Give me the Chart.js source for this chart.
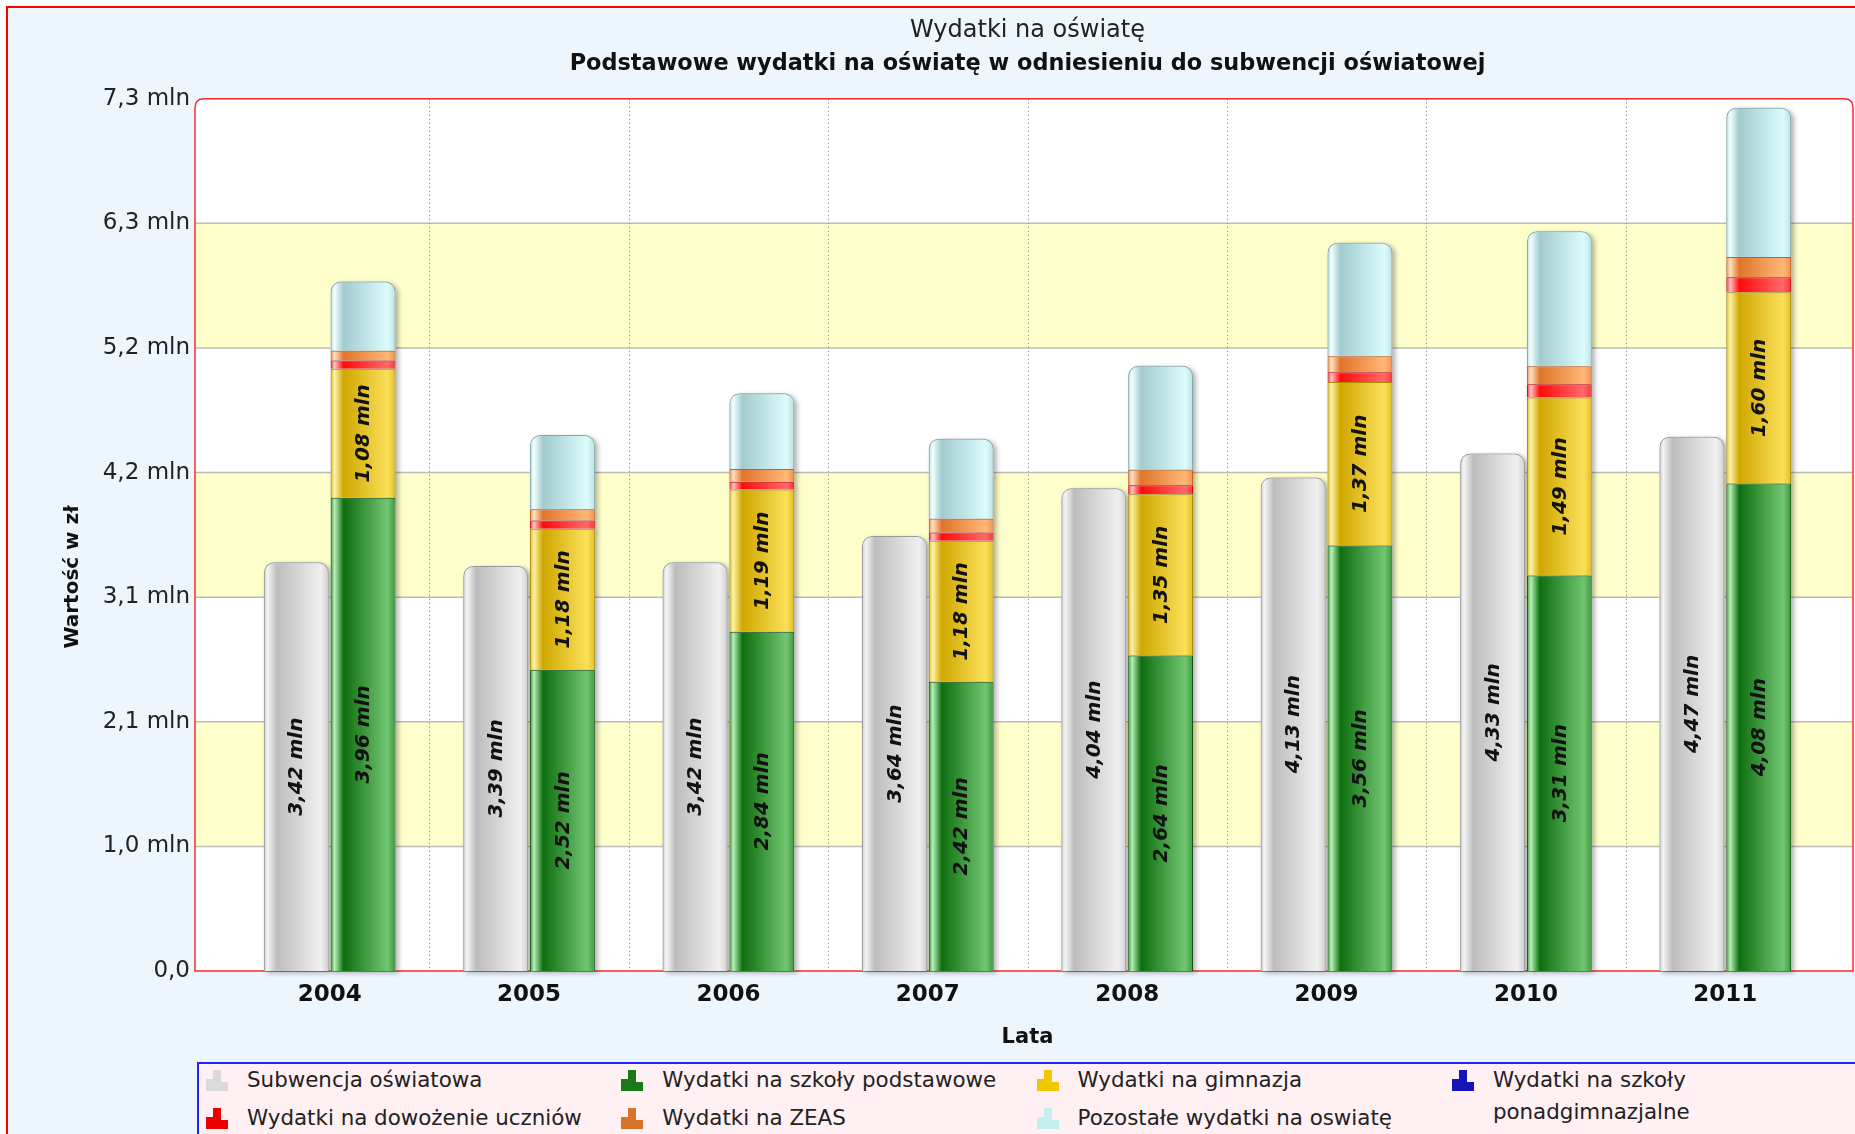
<!DOCTYPE html>
<html lang="pl">
<head>
<meta charset="utf-8">
<title>Wydatki na oświatę</title>
<script src="https://cdn.jsdelivr.net/npm/chart.js@4.4.1/dist/chart.umd.min.js"></script>
<style>
  html, body { margin: 0; padding: 0; background: #fff; overflow: hidden; }
  #wrap { position: relative; width: 1855px; height: 1134px; overflow: hidden; }
  #chart { display: block; }
  #legend {
    position: absolute; left: 197px; top: 1062px; width: 1720px; height: 110px;
    border: 2px solid #2424ff; background: #fff0f4;
    font-family: "DejaVu Sans", Verdana, sans-serif; font-size: 21.4px; color: #222;
  }
  .item { position: absolute; line-height: 31.5px; height: 32px; }
  .icon { position: absolute; left: 0; top: 6px; width: 23px; height: 21px; }
  .icon span { position: absolute; bottom: 0; width: 7px; }
  .label { position: absolute; left: 41px; top: 0; white-space: nowrap; }
  .label.wrap { white-space: normal; width: 260px; }
</style>
</head>
<body>
<div id="wrap">
  <canvas id="chart" width="1855" height="1134"></canvas>
  <div id="legend"></div>
</div>
<script>
// values in mln zł
const years = ['2004', '2005', '2006', '2007', '2008', '2009', '2010', '2011'];
const subwencja = [3.42, 3.39, 3.42, 3.64, 4.04, 4.13, 4.33, 4.47];
const podstawowe = [3.96, 2.52, 2.84, 2.42, 2.64, 3.56, 3.31, 4.08];
const gimnazja = [1.08, 1.18, 1.19, 1.18, 1.35, 1.37, 1.49, 1.60];
const ponadgimnazjalne = [0, 0, 0, 0, 0, 0, 0, 0];
const dowozenie = [0.07, 0.07, 0.065, 0.07, 0.075, 0.08, 0.11, 0.125];
const zeas = [0.08, 0.095, 0.105, 0.115, 0.13, 0.135, 0.15, 0.17];
const pozostale = [0.58, 0.62, 0.635, 0.67, 0.87, 0.95, 1.13, 1.25];

const yMax = 7.3;
const yTickLabels = ['0,0', '1,0 mln', '2,1 mln', '3,1 mln', '4,2 mln', '5,2 mln', '6,3 mln', '7,3 mln'];

const FONT = '"DejaVu Sans", Verdana, sans-serif';
const CAT_PCT = 0.67;
const BAR_PCT = 0.97;
const PANEL_LEFT = 35;   // panel sticks out past the category area
const PANEL_RIGHT = 28;

const tones = {
  gray:   { mid: '#d0d0d0', shine: '#f4f4f4', dark: '#bdbdbd', light: '#f0f0f0', border: '#9a9a9a' },
  green:  { mid: '#3a9a3a', shine: '#b8f0b8', dark: '#0e6e0e', light: '#72c672', border: '#0b4f0b' },
  yellow: { mid: '#e2c020', shine: '#fff2a8', dark: '#cfa700', light: '#fbe05a', border: '#a88a00' },
  blue:   { mid: '#2020d0', shine: '#8080ff', dark: '#0000a0', light: '#4040ff', border: '#000080' },
  red:    { mid: '#ff3030', shine: '#ffc4c4', dark: '#ff0a0a', light: '#ff6a6a', border: '#cc0000' },
  orange: { mid: '#f09048', shine: '#ffe2c4', dark: '#e0742a', light: '#ffb878', border: '#c0601c' },
  cyan:   { mid: '#bce2e4', shine: '#f0ffff', dark: '#a2cbce', light: '#dcfcfd', border: '#80a8ac' },
};

function glossy(tone) {
  return (ctx) => {
    const chart = ctx.chart;
    const xs = chart.scales && chart.scales.x;
    if (ctx.type !== 'data' || !xs || !chart.chartArea) return tone.mid;
    const size = (xs.width / years.length) * CAT_PCT;
    const chunk = size / 2;
    const slot = ctx.dataset.stack === 'sub' ? 0.5 : 1.5;
    const center = xs.getPixelForValue(ctx.dataIndex) - size / 2 + chunk * slot;
    const w = chunk * BAR_PCT;
    const left = center - w / 2;
    const g = chart.ctx.createLinearGradient(left, 0, left + w, 0);
    g.addColorStop(0, tone.mid);
    g.addColorStop(0.06, tone.shine);
    g.addColorStop(0.2, tone.dark);
    g.addColorStop(0.88, tone.light);
    g.addColorStop(1, tone.mid);
    return g;
  };
}

function series(label, data, tone, stack, legendColor, showValues) {
  return {
    label, data, stack, legendColor, showValues,
    backgroundColor: glossy(tone),
    borderColor: tone.border,
    borderWidth: data.some((v) => v > 0) ? 1 : 0,
    borderSkipped: 'start',
    borderRadius: 10,
    categoryPercentage: CAT_PCT,
    barPercentage: BAR_PCT,
  };
}

const fmt = (v) => v.toFixed(2).replace('.', ',') + ' mln';

const backdrop = {
  id: 'backdrop',
  beforeDraw(chart) {
    const { ctx, chartArea: a, scales: { x, y } } = chart;
    const L = a.left - PANEL_LEFT, R = a.right + PANEL_RIGHT, T = a.top, B = a.bottom;
    ctx.save();
    ctx.fillStyle = '#fff';
    ctx.fillRect(0, 0, chart.width, chart.height);
    ctx.fillStyle = '#eef6fd';
    ctx.fillRect(7, 7, chart.width, chart.height);
    ctx.strokeStyle = '#ff0000';
    ctx.lineWidth = 2;
    ctx.strokeRect(7, 7, chart.width + 40, chart.height + 40);

    const r = 9;
    const panel = new Path2D();
    panel.moveTo(L, B);
    panel.lineTo(L, T + r);
    panel.quadraticCurveTo(L, T, L + r, T);
    panel.lineTo(R - r, T);
    panel.quadraticCurveTo(R, T, R, T + r);
    panel.lineTo(R, B);
    panel.closePath();
    ctx.fillStyle = '#fff';
    ctx.fill(panel);

    ctx.save();
    ctx.clip(panel);
    const ticks = y.ticks;
    ctx.fillStyle = '#ffffcc';
    for (let i = 1; i < ticks.length - 1; i += 2) {
      const y1 = y.getPixelForValue(ticks[i].value);
      const y2 = y.getPixelForValue(ticks[i + 1].value);
      ctx.fillRect(L, y2, R - L, y1 - y2);
    }
    ctx.strokeStyle = '#bcbcb4';
    ctx.lineWidth = 1.5;
    for (let i = 1; i < ticks.length - 1; i++) {
      const py = y.getPixelForValue(ticks[i].value);
      ctx.beginPath();
      ctx.moveTo(L, py);
      ctx.lineTo(R, py);
      ctx.stroke();
    }
    ctx.strokeStyle = '#9a9a9a';
    ctx.lineWidth = 1;
    ctx.setLineDash([1.5, 2.5]);
    for (let i = 0; i < years.length - 1; i++) {
      const px = Math.round((x.getPixelForValue(i) + x.getPixelForValue(i + 1)) / 2) + 0.5;
      ctx.beginPath();
      ctx.moveTo(px, T);
      ctx.lineTo(px, B);
      ctx.stroke();
    }
    ctx.restore();

    ctx.setLineDash([]);
    ctx.strokeStyle = '#ff2a2a';
    ctx.lineWidth = 1.5;
    ctx.stroke(panel);

    // y axis title, centred over plot + x axis like the original
    ctx.translate(73, 577);
    ctx.rotate(-Math.PI / 2);
    ctx.font = 'bold 20px ' + FONT;
    ctx.fillStyle = '#111';
    ctx.textAlign = 'center';
    ctx.textBaseline = 'middle';
    ctx.fillText('Wartość w zł', 0, 0);
    ctx.restore();
  },
};

const barDeco = {
  id: 'barDeco',
  beforeDatasetsDraw(chart) {
    // soft drop shadow under each column, hidden by the bars themselves
    const ctx = chart.ctx;
    ctx.save();
    ctx.shadowColor = 'rgba(0,0,0,0.3)';
    ctx.shadowBlur = 5;
    ctx.shadowOffsetX = 3;
    ctx.shadowOffsetY = 2;
    ctx.fillStyle = '#d0d0d0';
    years.forEach((_, i) => {
      const cols = {};
      chart.data.datasets.forEach((ds, di) => {
        const el = chart.getDatasetMeta(di).data[i];
        if (!el || ds.data[i] <= 0) return;
        const c = cols[ds.stack] || (cols[ds.stack] = { x: el.x, w: el.width, top: el.y, base: el.base });
        c.top = Math.min(c.top, el.y);
      });
      Object.values(cols).forEach((c) => {
        ctx.beginPath();
        ctx.roundRect(c.x - c.w / 2, c.top, c.w, c.base - c.top, [10, 10, 0, 0]);
        ctx.fill();
      });
    });
    ctx.restore();
  },
  afterDatasetsDraw(chart) {
    const ctx = chart.ctx;
    ctx.save();
    ctx.font = 'italic bold 20px ' + FONT;
    ctx.fillStyle = '#111';
    ctx.textAlign = 'center';
    ctx.textBaseline = 'middle';
    chart.data.datasets.forEach((ds, di) => {
      if (!ds.showValues) return;
      chart.getDatasetMeta(di).data.forEach((el, i) => {
        ctx.save();
        ctx.translate(el.x, (el.y + el.base) / 2);
        ctx.rotate(-Math.PI / 2);
        ctx.fillText(fmt(ds.data[i]), 0, 1);
        ctx.restore();
      });
    });
    ctx.restore();
  },
};

Chart.defaults.font.family = FONT;
Chart.defaults.color = '#222';

const chart = new Chart(document.getElementById('chart'), {
  type: 'bar',
  data: {
    labels: years,
    datasets: [
      series('Subwencja oświatowa', subwencja, tones.gray, 'sub', '#dadada', true),
      series('Wydatki na szkoły podstawowe', podstawowe, tones.green, 'wyd', '#1a7a1a', true),
      series('Wydatki na gimnazja', gimnazja, tones.yellow, 'wyd', '#f0c800', true),
      series('Wydatki na szkoły ponadgimnazjalne', ponadgimnazjalne, tones.blue, 'wyd', '#1414b8', false),
      series('Wydatki na dowożenie uczniów', dowozenie, tones.red, 'wyd', '#ee0000', false),
      series('Wydatki na ZEAS', zeas, tones.orange, 'wyd', '#d8742a', false),
      series('Pozostałe wydatki na oswiatę', pozostale, tones.cyan, 'wyd', '#c4eef0', false),
    ],
  },
  options: {
    responsive: false,
    animation: false,
    devicePixelRatio: 1,
    layout: { padding: { left: 0, right: 30, top: 0, bottom: 73 } },
    plugins: {
      legend: { display: false },
      tooltip: { enabled: false },
      title: {
        display: true,
        text: 'Wydatki na oświatę',
        fullSize: false,
        color: '#222',
        font: { size: 24, weight: 'normal' },
        padding: { top: 16, bottom: 0 },
      },
      subtitle: {
        display: true,
        text: 'Podstawowe wydatki na oświatę w odniesieniu do subwencji oświatowej',
        fullSize: false,
        color: '#111',
        font: { size: 22.4, weight: 'bold' },
        padding: { top: 6, bottom: 21 },
      },
    },
    scales: {
      x: {
        stacked: true,
        grid: { display: false, drawTicks: false },
        border: { display: false },
        ticks: { color: '#111', font: { size: 23, weight: 'bold' }, padding: 10 },
        title: {
          display: true,
          text: 'Lata',
          color: '#111',
          font: { size: 21, weight: 'bold' },
          padding: { top: 0, bottom: 11 },
        },
        afterFit: (scale) => { scale.height = 90; },
      },
      y: {
        stacked: true,
        min: 0,
        max: yMax,
        grid: { display: false, drawTicks: false },
        border: { display: false },
        afterBuildTicks: (scale) => {
          scale.ticks = yTickLabels.map((_, i) => ({ value: (i * yMax) / (yTickLabels.length - 1) }));
        },
        ticks: {
          color: '#222',
          font: { size: 23 },
          padding: 40,
          autoSkip: false,
          callback: (v, i) => yTickLabels[i],
        },
        afterFit: (scale) => { scale.width = 230; },
      },
    },
  },
  plugins: [backdrop, barDeco],
});

// legend: four columns, row by row, like the original
const legend = document.getElementById('legend');
chart.data.datasets.forEach((ds, i) => {
  const item = document.createElement('div');
  item.className = 'item';
  item.style.left = (7 + (i % 4) * 415.3) + 'px';
  item.style.top = (Math.floor(i / 4) * 37.5) + 'px';
  const icon = document.createElement('div');
  icon.className = 'icon';
  [[0, 12, 7], [7, 21, 8], [15, 9, 7]].forEach(([l, h, w]) => {
    const s = document.createElement('span');
    s.style.left = l + 'px';
    s.style.height = h + 'px';
    s.style.width = w + 'px';
    s.style.background = ds.legendColor;
    icon.appendChild(s);
  });
  const label = document.createElement('div');
  label.className = 'label' + (i === 3 ? ' wrap' : '');
  label.textContent = ds.label;
  item.appendChild(icon);
  item.appendChild(label);
  legend.appendChild(item);
});
</script>
</body>
</html>
